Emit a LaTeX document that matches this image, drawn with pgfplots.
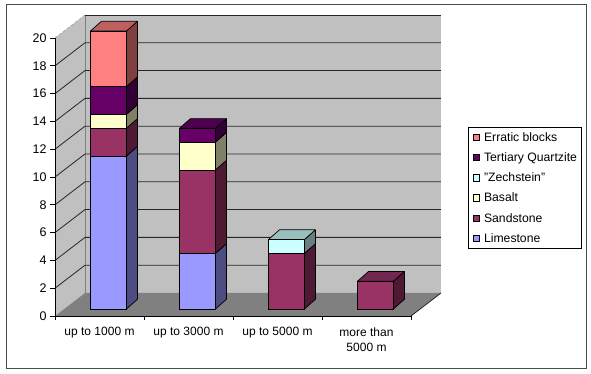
\documentclass[border=0pt]{standalone}
\usepackage{pgfplots}
\usepackage{pgfplotstable}
\usepackage{fontspec}
\setmainfont{Liberation Sans}
\pgfplotsset{compat=1.18}
\definecolor{lime}{HTML}{9999FF}\definecolor{limeS}{HTML}{4C4C80}
\definecolor{sand}{HTML}{993366}\definecolor{sandS}{HTML}{4D1933}\definecolor{sandT}{HTML}{732650}
\definecolor{bas}{HTML}{FFFFCC}\definecolor{basS}{HTML}{808066}
\definecolor{zech}{HTML}{CCFFFF}\definecolor{zechS}{HTML}{668080}\definecolor{zechT}{HTML}{99BFBF}
\definecolor{quar}{HTML}{660066}\definecolor{quarS}{HTML}{330033}\definecolor{quarT}{HTML}{4D004D}
\definecolor{err}{HTML}{FF8080}\definecolor{errS}{HTML}{804040}\definecolor{errT}{HTML}{BF6060}
\definecolor{wall}{HTML}{C0C0C0}\definecolor{floorc}{HTML}{808080}
\pgfplotstableread{
pos offset limestone sandstone basalt zechstein quartzite erratic
0.6 0.5 11 2 1 0 2 4
1.6 0.5 4 6 2 0 1 0
2.6 0.5 0 4 0 1 0 0
3.6 0.5 0 2 0 0 0 0
}\rocks
\pgfplotsset{
  common/.style={x=89pt,y=13.9pt,xmin=0,xmax=4,ymin=0,ymax=20,clip=false,
    at={(55pt,58pt)},anchor=south west},
  grid3d/.style={draw=black!85,line width=0.8pt,forget plot},
  face/.style={draw=black,line width=0.7pt,fill=#1,forget plot,line join=round},
}
\begin{document}
\begin{tikzpicture}[x=1pt,y=1pt]
\path[use as bounding box,fill=white] (0,0) rectangle (591,374);
\draw[draw=black!70,line width=1pt] (6,5) rectangle (586,369);
\begin{axis}[common,
  axis x line=bottom,axis y line=left,
  x axis line style={-},y axis line style={-},
  tick align=outside,major tick length=5pt,minor tick length=4pt,
  /pgf/number format/assume math mode=true,
  ytick={0,2,...,20},
  xtick={0.5,1.5,2.5,3.5},
  minor xtick={0,1,2,3,4},
  major x tick style={draw=none},
  minor x tick style={black,line width=0.8pt},
  y tick style={black,line width=0.8pt},
  xticklabels={up to 1000 m,up to 3000 m,up to 5000 m,{more than\\5000 m}},
  x tick label style={align=center,font=\fontsize{12}{15.5}\selectfont,yshift=-3pt},
  y tick label style={font=\fontsize{12.5}{14}\selectfont},
  axis on top,
]
% walls and floor
\addplot[fill=wall,draw=none,forget plot] coordinates {(0,0)(0,20)(0.337,21.655)(0.337,1.655)} --cycle;
\addplot[fill=wall,draw=none,forget plot] coordinates {(0.337,1.655)(0.337,21.655)(4.337,21.655)(4.337,1.655)} --cycle;
\addplot[fill=floorc,draw=none,forget plot] coordinates {(0,0)(4,0)(4.337,1.655)(0.337,1.655)} --cycle;
\addplot[draw=black!50,line width=0.8pt,forget plot] coordinates {(0.337,1.655)(0.337,21.655)};
% grid lines
\addplot[grid3d] coordinates {(0,2)(0.337,3.655)(4.337,3.655)};
\addplot[grid3d] coordinates {(0,4)(0.337,5.655)(4.337,5.655)};
\addplot[grid3d] coordinates {(0,6)(0.337,7.655)(4.337,7.655)};
\addplot[grid3d] coordinates {(0,8)(0.337,9.655)(4.337,9.655)};
\addplot[grid3d] coordinates {(0,10)(0.337,11.655)(4.337,11.655)};
\addplot[grid3d] coordinates {(0,12)(0.337,13.655)(4.337,13.655)};
\addplot[grid3d] coordinates {(0,14)(0.337,15.655)(4.337,15.655)};
\addplot[grid3d] coordinates {(0,16)(0.337,17.655)(4.337,17.655)};
\addplot[grid3d] coordinates {(0,18)(0.337,19.655)(4.337,19.655)};
\addplot[draw=black!35,densely dashed,line width=0.7pt,forget plot] coordinates {(0,20)(0.337,21.655)};
\addplot[grid3d] coordinates {(0.337,21.655)(4.337,21.655)};
\addplot[grid3d] coordinates {(4,0)(4.337,1.655)};
% bar 1 side and top
\addplot[face=limeS] coordinates {(.802,.5)(.802,11.5)(.926,12.2)(.926,1.2)} --cycle;
\addplot[face=sandS] coordinates {(.802,11.5)(.802,13.5)(.926,14.2)(.926,12.2)} --cycle;
\addplot[face=basS] coordinates {(.802,13.5)(.802,14.5)(.926,15.2)(.926,14.2)} --cycle;
\addplot[face=quarS] coordinates {(.802,14.5)(.802,16.5)(.926,17.2)(.926,15.2)} --cycle;
\addplot[face=errS] coordinates {(.802,16.5)(.802,20.5)(.926,21.2)(.926,17.2)} --cycle;
\addplot[face=errT] coordinates {(.398,20.5)(.802,20.5)(.926,21.2)(.522,21.2)} --cycle;
% bar 2
\addplot[face=limeS] coordinates {(1.802,.5)(1.802,4.5)(1.926,5.2)(1.926,1.2)} --cycle;
\addplot[face=sandS] coordinates {(1.802,4.5)(1.802,10.5)(1.926,11.2)(1.926,5.2)} --cycle;
\addplot[face=basS] coordinates {(1.802,10.5)(1.802,12.5)(1.926,13.2)(1.926,11.2)} --cycle;
\addplot[face=quarS] coordinates {(1.802,12.5)(1.802,13.5)(1.926,14.2)(1.926,13.2)} --cycle;
\addplot[face=quarT] coordinates {(1.398,13.5)(1.802,13.5)(1.926,14.2)(1.522,14.2)} --cycle;
% bar 3
\addplot[face=sandS] coordinates {(2.802,.5)(2.802,4.5)(2.926,5.2)(2.926,1.2)} --cycle;
\addplot[face=zechS] coordinates {(2.802,4.5)(2.802,5.5)(2.926,6.2)(2.926,5.2)} --cycle;
\addplot[face=zechT] coordinates {(2.398,5.5)(2.802,5.5)(2.926,6.2)(2.522,6.2)} --cycle;
% bar 4
\addplot[face=sandS] coordinates {(3.802,.5)(3.802,2.5)(3.926,3.2)(3.926,1.2)} --cycle;
\addplot[face=sandT] coordinates {(3.398,2.5)(3.802,2.5)(3.926,3.2)(3.522,3.2)} --cycle;
\end{axis}
\begin{axis}[common,hide axis,
  ybar stacked,bar width=36pt,
  legend image code/.code={\draw[#1,draw=black,line width=0.6pt] (2.5pt,-3pt) rectangle (9pt,3.5pt);\path (0pt,0pt) (11pt,0pt);},
  reverse legend,legend cell align=left,
  legend style={at={(rel axis cs:1.160,0.680)},anchor=north west,draw=black,line width=0.8pt,
    fill=white,font=\fontsize{12.2}{14}\selectfont,row sep=5.9pt,inner xsep=2pt,inner ysep=3pt,
    /tikz/every even column/.append style={column sep=0pt}},
]
\addplot[draw=none,fill=none,forget plot] table[x=pos,y=offset] {\rocks};
\addplot[fill=lime,draw=black,line width=0.7pt] table[x=pos,y=limestone] {\rocks};
\addplot[fill=sand,draw=black,line width=0.7pt] table[x=pos,y=sandstone] {\rocks};
\addplot[fill=bas,draw=black,line width=0.7pt] table[x=pos,y=basalt] {\rocks};
\addplot[fill=zech,draw=black,line width=0.7pt] table[x=pos,y=zechstein] {\rocks};
\addplot[fill=quar,draw=black,line width=0.7pt] table[x=pos,y=quartzite] {\rocks};
\addplot[fill=err,draw=black,line width=0.7pt] table[x=pos,y=erratic] {\rocks};
\legend{Limestone,Sandstone,Basalt,"Zechstein",Tertiary Quartzite,Erratic blocks}
\end{axis}
\end{tikzpicture}
\end{document}
